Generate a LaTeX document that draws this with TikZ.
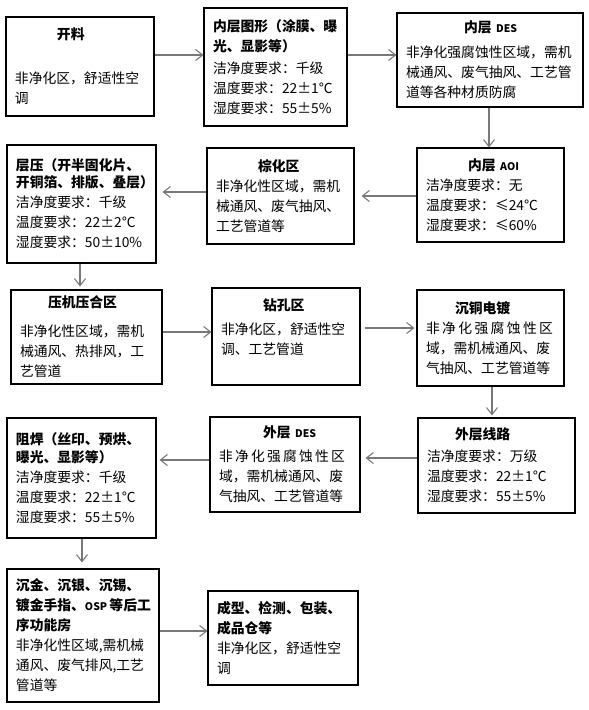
\documentclass[tikz,border=0pt]{standalone}
\usepackage{fontspec}
\setmainfont{Noto Sans CJK SC}
\usetikzlibrary{arrows.meta}
\definecolor{linkgray}{RGB}{120,120,120}
\newcommand{\ltn}[1]{{\fontsize{10.5pt}{12pt}\selectfont #1}}

\begin{document}
\begin{tikzpicture}[x=1pt,y=-1pt,
  stage/.style={draw,line width=1.1pt,inner xsep=9pt,inner ysep=0pt,align=left,
    font=\fontsize{13.8pt}{20pt}\selectfont},
  link/.style={draw=linkgray,line width=1.1pt,-{Straight Barb[length=7pt,width=11pt]}}]
\useasboundingbox (0,0) rectangle (589,710);

\node[stage,minimum width=148pt,minimum height=99pt,text width=130pt] (kailiao) at (80,66.5)
  {\hspace*{42pt}\textbf{开料}\\[24pt]非净化区，舒适性空\\调};
\node[stage,minimum width=143pt,minimum height=118pt,text width=125pt] (tuxing) at (275.5,67)
  {\textbf{内层图形（涂膜、曝}\\\textbf{光、显影等）}\\[2pt]洁净度要求：千级\\温度要求：22±1℃\\湿度要求：55±5\%};
\node[stage,minimum width=186pt,minimum height=94pt,text width=168pt] (neides) at (490,60)
  {\hspace*{58pt}\textbf{内层~\ltn{DES}}\\[5pt]非净化强腐蚀性区域，需机\\械通风、废气抽风、工艺管\\道等各种材质防腐};

\node[stage,minimum width=147pt,minimum height=94pt,text width=129pt] (neiaoi) at (490.5,195)
  {\hspace*{42pt}\textbf{内层~\ltn{AOI}}\\洁净度要求：无\\温度要求：≤24℃\\湿度要求：≤60\%};
\node[stage,minimum width=147pt,minimum height=96pt,text width=129pt] (zonghua) at (280.5,196)
  {\hspace*{42pt}\textbf{棕化区}\\非净化性区域，需机\\械通风、废气抽风、\\工艺管道等};
\node[stage,minimum width=149pt,minimum height=118pt,text width=131pt] (cengya) at (81.5,204)
  {\textbf{层压（开半固化片、}\\[-3pt]\textbf{开铜箔、排版、叠层）}\\洁净度要求：千级\\温度要求：22±2℃\\湿度要求：50±10\%};

\node[stage,minimum width=151pt,minimum height=94pt,text width=133pt] (yaji) at (86.5,337)
  {\hspace*{28pt}\textbf{压机压合区}\\[9pt]非净化性区域，需机\\械通风、热排风，工\\艺管道};
\node[stage,minimum width=148pt,minimum height=97pt,text width=130pt] (zuankong) at (286,336.5)
  {\hspace*{42pt}\textbf{钻孔区}\\[4pt]非净化区，舒适性空\\调、工艺管道\\ \mbox{}};
\node[stage,minimum width=147pt,minimum height=96pt,text width=129pt] (chentong) at (490.5,338)
  {\hspace*{29pt}\textbf{沉铜电镀}\\\makebox[127pt][s]{非\hfill 净\hfill 化\hfill 强\hfill 腐\hfill 蚀\hfill 性\hfill 区}\\域，需机械通风、废\\气抽风、工艺管道等};

\node[stage,minimum width=157pt,minimum height=95pt,text width=139pt] (xianlu) at (496.5,465.5)
  {\hspace*{28pt}\textbf{外层线路}\\[2pt]洁净度要求：万级\\温度要求：22±1℃\\湿度要求：55±5\%};
\node[stage,minimum width=150pt,minimum height=95pt,text width=132pt] (waides) at (285,464.5)
  {\hspace*{44pt}\textbf{外层~\ltn{DES}}\\[4pt]\makebox[126pt][s]{非\hfill 净\hfill 化\hfill 强\hfill 腐\hfill 蚀\hfill 性\hfill 区}\\域，需机械通风、废\\气抽风、工艺管道等};
\node[stage,minimum width=149pt,minimum height=120pt,text width=131pt] (zuhan) at (81.5,478)
  {\textbf{阻焊（丝印、预烘、}\\[-2pt]\textbf{曝光、显影等）}\\洁净度要求：千级\\温度要求：22±1℃\\湿度要求：55±5\%};

\node[stage,minimum width=152pt,minimum height=133pt,text width=134pt] (chenjin) at (83,635.5)
  {\textbf{沉金、沉银、沉锡、}\\\textbf{镀金手指、\ltn{OSP}\,等后工}\\\textbf{序功能房}\\非净化性区域,需机械\\通风、废气排风,工艺\\管道等};
\node[stage,minimum width=150pt,minimum height=94pt,text width=132pt] (chengxing) at (283,638)
  {\textbf{成型、检测、包装、}\\\textbf{成品仓等}\\非净化区，舒适性空\\调};

\draw[link] (kailiao.east |- 0,55) -- (tuxing.west |- 0,55);
\draw[link] (tuxing.east |- 0,55) -- (neides.west |- 0,55);
\draw[link] (neides.south -| 489,0) -- (neiaoi.north -| 489,0);
\draw[link,shorten >=7pt] (neiaoi.west |- 0,196) -- (zonghua.east |- 0,196);
\draw[link,shorten >=6pt] (zonghua.west |- 0,192) -- (cengya.east |- 0,192);
\draw[link,shorten >=3pt] (cengya.south -| 80,0) -- (yaji.north -| 80,0);
\draw[link] (yaji.east |- 0,332) -- (zuankong.west |- 0,332);
\draw[link,shorten <=4pt,shorten >=2pt] (zuankong.east |- 0,328) -- (chentong.west |- 0,328);
\draw[link,shorten >=2pt] (chentong.south -| 492,0) -- (xianlu.north -| 492,0);
\draw[link,shorten >=5pt] (xianlu.west |- 0,458) -- (waides.east |- 0,458);
\draw[link,shorten >=3pt] (waides.west |- 0,460) -- (zuhan.east |- 0,460);
\draw[link,shorten >=6pt] (zuhan.south -| 82,0) -- (chenjin.north -| 82,0);
\draw[link] (chenjin.east |- 0,631) -- (chengxing.west |- 0,631);
\end{tikzpicture}
\end{document}
